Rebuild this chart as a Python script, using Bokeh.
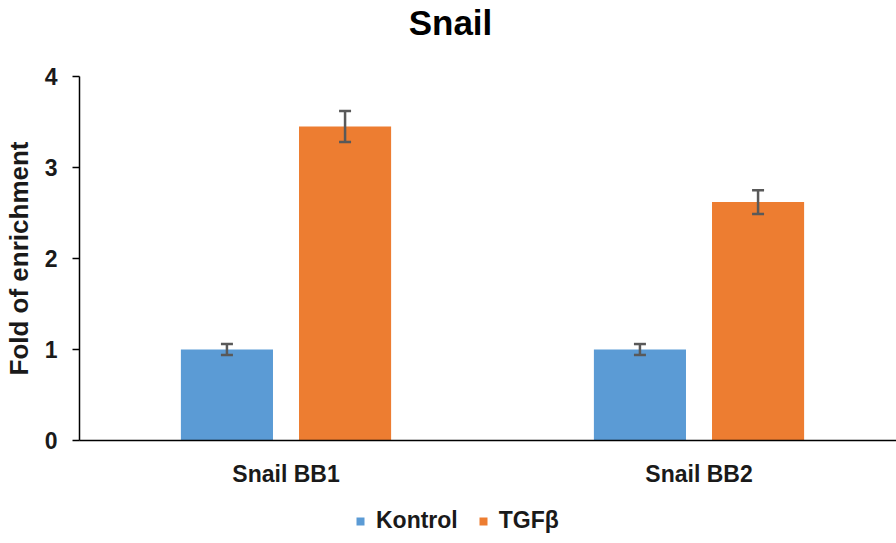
from bokeh.plotting import figure
from bokeh.models import (ColumnDataSource, Range1d, FixedTicker, Whisker, TeeHead,
                          Legend, LegendItem, Label)
from bokeh.embed import file_html
from bokeh.resources import INLINE

categories = ["Snail BB1", "Snail BB2"]
series = ["Kontrol", "TGFβ"]
kontrol = [1.0, 1.0]
kontrol_err = [0.06, 0.06]
tgfb = [3.45, 2.62]
tgfb_err = [0.17, 0.13]
colors = ["#5B9BD5", "#ED7D31"]
y_ticks = [0, 1, 2, 3, 4]

FONT = "Liberation Sans"
TXT = "#1a1a1a"

W, H = 896, 543
X0, Y0 = 79, 440          # pixel position of the axes origin
PX_PER_CAT, PX_PER_UNIT = 413, 91

p = figure(width=W, height=H, output_backend="svg", toolbar_location=None,
           x_range=Range1d(-X0 / PX_PER_CAT, (W - X0) / PX_PER_CAT),
           y_range=Range1d(-(H - Y0) / PX_PER_UNIT, Y0 / PX_PER_UNIT),
           min_border_left=0, min_border_right=0, min_border_top=0, min_border_bottom=0)
p.outline_line_color = None
p.grid.visible = False
p.title.visible = False

centers = [i + 0.5 for i in range(len(categories))]
offset = 0.143
bw = 0.223
renderers = []
for vals, errs, col, off in [(kontrol, kontrol_err, colors[0], -offset), (tgfb, tgfb_err, colors[1], offset)]:
    xs = [c + off for c in centers]
    src = ColumnDataSource(dict(x=xs, top=vals,
                                upper=[v + e for v, e in zip(vals, errs)],
                                lower=[v - e for v, e in zip(vals, errs)]))
    r = p.vbar(x="x", top="top", bottom=0, width=bw, source=src, fill_color=col, line_color=None)
    renderers.append(r)
    w = Whisker(base="x", upper="upper", lower="lower", source=src, level="overlay",
                line_color="#595959", line_width=2.5,
                upper_head=TeeHead(size=12, line_color="#595959", line_width=2.5),
                lower_head=TeeHead(size=12, line_color="#595959", line_width=2.5))
    p.add_layout(w)

# y axis
ya = p.yaxis[0]
ya.fixed_location = 0
ya.bounds = (0, 4)
ya.ticker = FixedTicker(ticks=y_ticks)
ya.minor_tick_line_color = None
ya.major_tick_out = 7
ya.major_tick_in = 0
ya.axis_line_width = 1.5
ya.major_tick_line_width = 1.5
ya.axis_line_color = "black"
ya.major_tick_line_color = "black"
ya.major_label_text_font = FONT
ya.major_label_text_font_style = "bold"
ya.major_label_text_font_size = "23px"
ya.major_label_text_color = TXT
ya.major_label_standoff = 15
ya.axis_label = "Fold of enrichment"
ya.axis_label_text_font = FONT
ya.axis_label_text_font_style = "bold"
ya.axis_label_text_font_size = "26px"
ya.axis_label_text_color = TXT
ya.axis_label_standoff = 8

# x axis
xa = p.xaxis[0]
xa.fixed_location = 0
xa.bounds = (0, (W - X0) / PX_PER_CAT)
xa.ticker = FixedTicker(ticks=centers)
xa.major_label_overrides = {c: name for c, name in zip(centers, categories)}
xa.major_tick_line_color = None
xa.minor_tick_line_color = None
xa.axis_line_width = 1.5
xa.axis_line_color = "black"
xa.major_label_text_font = FONT
xa.major_label_text_font_style = "bold"
xa.major_label_text_font_size = "23px"
xa.major_label_text_color = TXT
xa.major_label_standoff = 14

# title
p.add_layout(Label(x=450, y=H - 22, x_units="screen", y_units="screen", text="Snail",
                   text_font=FONT, text_font_style="bold", text_font_size="35px",
                   text_color="#000000", text_align="center", text_baseline="middle"))

legend = Legend(items=[LegendItem(label=s, renderers=[r]) for s, r in zip(series, renderers)],
                orientation="horizontal", location=(355, 9),
                label_text_font=FONT, label_text_font_style="bold", label_text_font_size="23px",
                label_text_color=TXT, glyph_width=10, glyph_height=10,
                spacing=20, label_standoff=11, border_line_color=None,
                background_fill_alpha=0, padding=0, margin=0)
p.add_layout(legend, "center")

open("out.html", "w").write(file_html(p, INLINE))
